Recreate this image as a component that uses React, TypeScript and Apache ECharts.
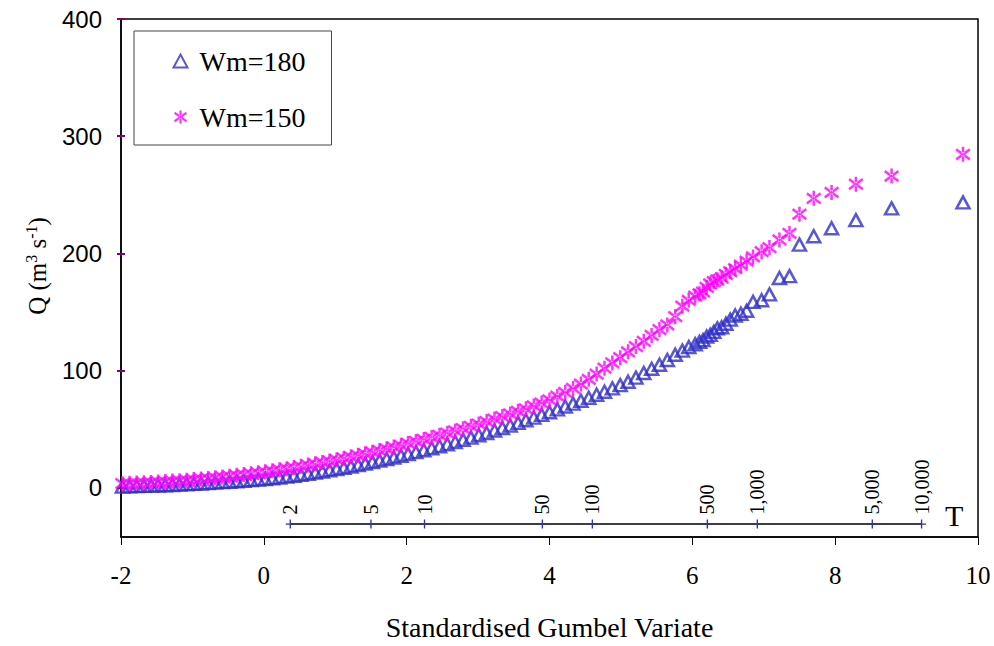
import React, { useEffect, useRef } from "react";
import * as echarts from "echarts";

// Standardised Gumbel variate (shared by both series)
const X_VALUES = [
  -1.98, -1.88, -1.78, -1.68, -1.58, -1.48, -1.38, -1.28, -1.18, -1.08,
  -0.98, -0.88, -0.78, -0.68, -0.58, -0.48, -0.38, -0.28, -0.18, -0.08,
  0.02, 0.12, 0.22, 0.32, 0.42, 0.52, 0.62, 0.72, 0.82, 0.92,
  1.02, 1.12, 1.22, 1.32, 1.42, 1.52, 1.62, 1.72, 1.82, 1.92,
  2.02, 2.13, 2.24, 2.35, 2.46, 2.57, 2.68, 2.79, 2.9, 3.01,
  3.12, 3.23, 3.34, 3.45, 3.56, 3.67, 3.78, 3.89, 4.0, 4.11,
  4.22, 4.33, 4.44, 4.55, 4.66, 4.77, 4.88, 4.99, 5.1, 5.21,
  5.32, 5.43, 5.54, 5.65, 5.76, 5.86, 5.95, 6.04, 6.1, 6.15,
  6.2, 6.25, 6.3, 6.35, 6.41, 6.47, 6.53, 6.6, 6.68, 6.76,
  6.85, 6.97, 7.08, 7.22, 7.36, 7.5, 7.7, 7.95, 8.29, 8.79, 9.79,
];

const Q_WM180 = [
  1.0, 1.2, 1.4, 1.6, 1.8, 2.0, 2.2, 2.4, 2.7, 3.0,
  3.3, 3.6, 4.0, 4.4, 4.8, 5.2, 5.6, 6.0, 6.5, 7.0,
  7.5, 8.1, 8.8, 9.5, 10.3, 11.1, 12.0, 12.9, 13.9, 14.9,
  16.0, 17.1, 18.2, 19.4, 20.6, 21.9, 23.2, 24.5, 25.9, 27.3,
  28.8, 30.4, 32.0, 33.7, 35.4, 37.2, 39.0, 40.9, 42.8, 44.8,
  46.8, 48.9, 51.0, 53.2, 55.4, 57.6, 59.9, 62.2, 64.5, 66.9,
  69.3, 71.8, 74.3, 76.8, 79.4, 82.0, 84.8, 87.6, 90.5, 94.0,
  98.0, 101.5, 105.0, 109.0, 113.5, 117.0, 120.0, 122.5, 124.5, 126.0,
  129.0, 130.5, 133.0, 136.0, 137.0, 140.0, 143.5, 147.0, 148.5, 151.0,
  158.6, 160.0, 165.0, 179.0, 180.6, 207.5, 214.6, 221.4, 228.4, 238.4, 243.5,
];

const Q_WM150 = [
  3.5, 3.8, 4.0, 4.3, 4.6, 5.0, 5.3, 5.7, 6.0, 6.5,
  7.0, 7.5, 8.0, 8.6, 9.2, 9.9, 10.6, 11.3, 12.0, 12.8,
  13.6, 14.5, 15.4, 16.3, 17.3, 18.3, 19.4, 20.5, 21.6, 22.8,
  24.0, 25.2, 26.4, 27.7, 29.0, 30.4, 31.8, 33.2, 34.7, 36.2,
  37.8, 39.5, 41.3, 43.0, 44.8, 46.6, 48.5, 50.4, 52.4, 54.4,
  56.5, 58.6, 60.8, 63.0, 65.2, 67.4, 69.8, 72.3, 75.0, 78.2,
  81.5, 84.8, 88.5, 92.5, 97.0, 102.0, 106.5, 111.0, 116.0, 120.5,
  125.0, 130.0, 135.0, 139.0, 146.0, 155.0, 160.0, 163.5, 165.5, 167.0,
  171.0, 174.0, 176.0, 177.5, 179.0, 182.0, 184.5, 187.0, 190.0, 193.5,
  197.0, 201.5, 205.0, 211.5, 217.0, 233.5, 247.0, 252.0, 259.0, 266.0, 284.5,
];

// Return-period scale (T) drawn inside the plot
const T_LABELS = ["2", "5", "10", "50", "100", "500", "1,000", "5,000", "10,000"];
const T_POSITIONS = [0.37, 1.5, 2.25, 3.9, 4.6, 6.21, 6.91, 8.52, 9.21];
const T_LINE_Q = -31;

const Y_TICKS = [0, 100, 200, 300, 400];
const SERIES_NAMES = ["Wm=180", "Wm=150"];

const STAR_PATH =
  "path://M5.0,0H7.0V12H5.0Z M0.0,2.9L11.0,10.9L12.0,9.1L1.0,1.1Z M1.0,10.9L12.0,2.9L11.0,1.1L0.0,9.1Z";
const CROSS_PATH = "path://M0,3.4H8V4.6H0Z M3.4,0H4.6V8H3.4Z";

const SERIF = "'Liberation Serif', 'Times New Roman', serif";
const SANS = "'Liberation Sans', Arial, sans-serif";

export default function App() {
  const ref = useRef<HTMLDivElement>(null);

  useEffect(() => {
    if (!ref.current) return;
    const chart = echarts.init(ref.current, undefined, { renderer: "svg" });

    const d180 = X_VALUES.map((x, i) => [x, Q_WM180[i]]);
    const d150 = X_VALUES.map((x, i) => [x, Q_WM150[i]]);
    const tData = T_POSITIONS.map((x) => [x, T_LINE_Q]);

    const yAxisBase = {
      type: "value",
      min: -42,
      max: 400,
      position: "left",
      splitLine: { show: false },
    };

    chart.setOption({
      animation: false,
      backgroundColor: "#ffffff",
      grid: {
        left: 121,
        right: 16,
        top: 19,
        bottom: 107,
        show: true,
        borderColor: "#000",
        borderWidth: 1.5,
      },
      legend: {
        data: SERIES_NAMES,
        orient: "vertical",
        left: 134,
        top: 31,
        padding: [16, 26, 14, 37],
        itemGap: 28,
        itemWidth: 14,
        itemHeight: 13,
        borderColor: "#444",
        borderWidth: 1,
        backgroundColor: "#fff",
        textStyle: { fontFamily: SERIF, fontSize: 28, color: "#000", padding: [0, 0, 0, 7] },
      },
      xAxis: {
        type: "value",
        min: -2,
        max: 10,
        interval: 2,
        name: "Standardised Gumbel Variate",
        nameLocation: "middle",
        nameGap: 76,
        nameTextStyle: { fontFamily: SERIF, fontSize: 28, color: "#000" },
        axisLine: { onZero: false, lineStyle: { color: "#000", width: 1.5 } },
        axisTick: { show: true, inside: false, length: 8, lineStyle: { color: "#000", width: 1 } },
        axisLabel: { fontFamily: SERIF, fontSize: 25, color: "#000", margin: 26 },
        splitLine: { show: false },
      },
      yAxis: [
        {
          ...yAxisBase,
          axisLine: { show: true, onZero: false, lineStyle: { color: "#000", width: 1.5 } },
          axisTick: { show: true, inside: false, length: 4, customValues: Y_TICKS, lineStyle: { color: "#800080", width: 2 } },
          axisLabel: { customValues: Y_TICKS, fontFamily: SANS, fontSize: 24, color: "#000", margin: 19 },
        },
        {
          ...yAxisBase,
          axisLine: { show: false, onZero: false },
          axisTick: { show: true, inside: true, length: 4, customValues: Y_TICKS, lineStyle: { color: "#800080", width: 2 } },
          axisLabel: { show: false },
        },
      ],
      graphic: [
        {
          type: "text",
          x: 37,
          y: 266,
          rotation: Math.PI / 2,
          style: {
            text: "{n|Q (m}{s|3}{n| s}{s|-1}{n|)}",
            align: "center",
            verticalAlign: "middle",
            rich: {
              n: { fontFamily: SERIF, fontSize: 25, fill: "#000", lineHeight: 27 },
              s: { fontFamily: SERIF, fontSize: 16, fill: "#000", verticalAlign: "top", lineHeight: 16 },
            },
          },
        },
        {
          type: "text",
          left: 945,
          top: 500,
          style: { text: "T", fontFamily: SERIF, fontSize: 30, fill: "#000" },
        },
      ],
      series: [
        {
          name: "T",
          type: "line",
          data: tData,
          symbol: CROSS_PATH,
          symbolSize: 9,
          showSymbol: true,
          lineStyle: { color: "#000", width: 1.5 },
          itemStyle: { color: "#333399" },
          label: {
            show: true,
            position: "top",
            rotate: 90,
            align: "left",
            verticalAlign: "middle",
            distance: 5,
            fontFamily: SERIF,
            fontSize: 20,
            color: "#000",
            formatter: (p: any) => T_LABELS[p.dataIndex],
          },
          z: 1,
        },
        {
          name: SERIES_NAMES[0],
          type: "scatter",
          data: d180,
          symbol: "triangle",
          symbolSize: [13, 12],
          itemStyle: { color: "none", borderColor: "#2E2EC8", borderWidth: 2.5 },
          z: 2,
        },
        {
          name: SERIES_NAMES[1],
          type: "scatter",
          data: d150,
          symbol: STAR_PATH,
          symbolSize: 15,
          itemStyle: { color: "#FF00FF" },
          z: 3,
        },
      ],
    });

    return () => chart.dispose();
  }, []);

  return (
    <div
      ref={ref}
      style={{ position: "fixed", left: 0, top: 0, width: 994, height: 646, background: "#fff" }}
    />
  );
}
